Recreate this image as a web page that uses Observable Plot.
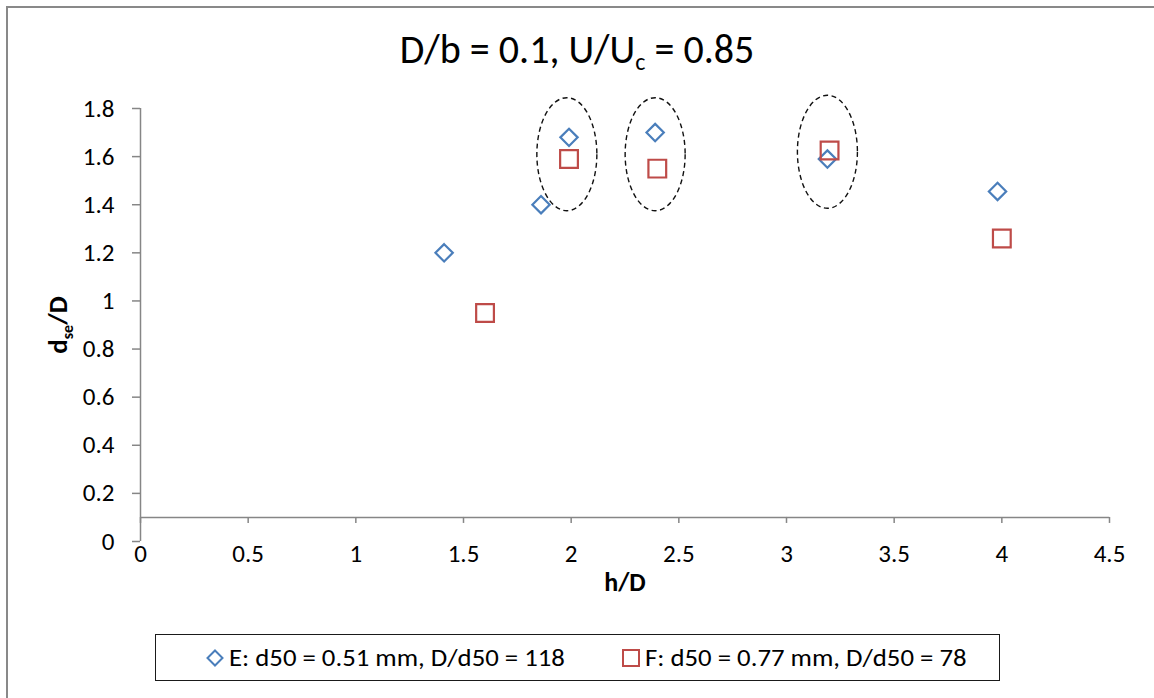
<!DOCTYPE html>
<html>
<head>
<meta charset="utf-8">
<script src="https://cdn.jsdelivr.net/npm/d3@7"></script>
<script src="https://cdn.jsdelivr.net/npm/@observablehq/plot@0.6"></script>
<style>
  body { margin: 0; background: #fff; }
  #wrap { position: relative; width: 1154px; height: 698px; overflow: hidden; font-family: Carlito, Lato, "Open Sans", sans-serif; color: #000; }
  #frame { position: absolute; left: 6px; top: 6px; width: 1300px; height: 900px; border-left: 2px solid #898989; border-top: 2px solid #898989; }
  #chart { position: absolute; left: 0; top: 0; }
  #title { position: absolute; left: 0; top: 26px; width: 1154px; text-align: center; font-size: 40px; line-height: 48px; }
  #title sub { font-size: 24px; vertical-align: -7px; line-height: 0; }
  #ylabel { position: absolute; left: 57px; top: 325px; transform: translate(-50%, -50%) rotate(-90deg); font-weight: bold; font-size: 27px; white-space: nowrap; }
  #ylabel sub { font-size: 16px; vertical-align: -6px; line-height: 0; }
  #legend { position: absolute; left: 155px; top: 634px; width: 845px; height: 47px; border: 1.5px solid #1a1a1a; box-sizing: border-box; }
  .item { position: absolute; top: 0; height: 100%; display: flex; align-items: center; font-size: 25px; white-space: nowrap; }
  .item span { display: inline-block; transform: scaleX(1.07); transform-origin: left center; }
  .item svg { margin-right: 5px; }
</style>
</head>
<body>
<div id="wrap">
  <div id="frame"></div>
  <div id="chart"></div>
  <div id="title">D/b = 0.1, U/U<sub>c</sub> = 0.85</div>
  <div id="ylabel">d<sub>se</sub>/D</div>
  <div id="legend"></div>
</div>
<script>
// ---- data ----
const seriesNames = ["E: d50 = 0.51 mm, D/d50 = 118", "F: d50 = 0.77 mm, D/d50 = 78"];
const eX = [1.41, 1.86, 1.99, 2.39, 3.19, 3.98];
const eY = [1.20, 1.40, 1.68, 1.70, 1.59, 1.455];
const fX = [1.60, 1.99, 2.40, 3.20, 4.00];
const fY = [0.95, 1.59, 1.55, 1.625, 1.26];
const ringX = [1.98, 2.39, 3.19];
const ringY = [1.61, 1.61, 1.62];
const xTicks = [0, 0.5, 1, 1.5, 2, 2.5, 3, 3.5, 4, 4.5];
const yTicks = [0, 0.2, 0.4, 0.6, 0.8, 1, 1.2, 1.4, 1.6, 1.8];
const xCross = 0.1;
const xLabel = "h/D";

const blue = "#4a7ebb", red = "#be4b48", axisGray = "#868686";
const fmt = d => String(+d.toFixed(1));

const eData = eX.map((x, i) => ({x, y: eY[i]}));
const fData = fX.map((x, i) => ({x, y: fY[i]}));
const rings = ringX.map((x, i) => ({x, y: ringY[i]}));

const ellipseSymbol = {
  draw(ctx) {
    const rx = 30, ry = 56.5, k = 0.5523;
    ctx.moveTo(rx, 0);
    ctx.bezierCurveTo(rx, ry * k, rx * k, ry, 0, ry);
    ctx.bezierCurveTo(-rx * k, ry, -rx, ry * k, -rx, 0);
    ctx.bezierCurveTo(-rx, -ry * k, -rx * k, -ry, 0, -ry);
    ctx.bezierCurveTo(rx * k, -ry, rx, -ry * k, rx, 0);
    ctx.closePath();
  }
};

const chart = Plot.plot({
  width: 1154,
  height: 698,
  marginLeft: 140,
  marginRight: 45,
  marginTop: 108,
  marginBottom: 157,
  style: {fontFamily: "Carlito, Lato, 'Open Sans', sans-serif", fontSize: "25px", background: "transparent", color: "#000"},
  x: {domain: [0, 4.5], axis: null},
  y: {domain: [0, 1.8], axis: null},
  marks: [
    // axes
    Plot.ruleY([xCross], {x1: 0, x2: 4.5, stroke: axisGray, strokeWidth: 1.5}),
    Plot.ruleX([0], {y1: 0, y2: 1.8, stroke: axisGray, strokeWidth: 1.5}),
    Plot.ruleX(xTicks, {x: d => d, y1: xCross, y2: xCross, insetBottom: -6, stroke: axisGray, strokeWidth: 1.5}),
    Plot.ruleY(yTicks, {y: d => d, x1: 0, x2: 0, insetLeft: -8, stroke: axisGray, strokeWidth: 1.5}),
    Plot.text(xTicks, {x: d => d, y: 0, dy: 12, text: fmt, fill: "#000"}),
    Plot.text(yTicks, {x: 0, y: d => d, dx: -26, textAnchor: "end", text: fmt, fill: "#000"}),
    Plot.text([xLabel], {frameAnchor: "bottom", dy: 49, text: d => d, fontWeight: "bold", fontSize: 26, fill: "#000"}),
    // data
    Plot.dot(rings, {x: "x", y: "y", symbol: ellipseSymbol, r: 10, stroke: "#111", strokeWidth: 1.4, strokeDasharray: "5,3.5", fill: "none"}),
    Plot.dot(eData, {x: "x", y: "y", symbol: "diamond2", r: 7.8, stroke: blue, strokeWidth: 2.2, fill: "none"}),
    Plot.dot(fData, {x: "x", y: "y", symbol: "square2", r: 11.3, stroke: red, strokeWidth: 2.2, fill: "none"})
  ]
});
document.getElementById("chart").appendChild(chart);

// legend
const legend = document.getElementById("legend");
legend.innerHTML =
  `<div class="item" style="left:50px"><svg width="18" height="18" viewBox="-9 -9 18 18"><path d="M0,-7.5L7.5,0L0,7.5L-7.5,0Z" fill="none" stroke="${blue}" stroke-width="2"/></svg><span>${seriesNames[0]}</span></div>` +
  `<div class="item" style="left:466px"><svg width="18" height="18" viewBox="-9 -9 18 18"><rect x="-8" y="-8" width="16" height="16" fill="none" stroke="${red}" stroke-width="2"/></svg><span>${seriesNames[1]}</span></div>`;
</script>
</body>
</html>
